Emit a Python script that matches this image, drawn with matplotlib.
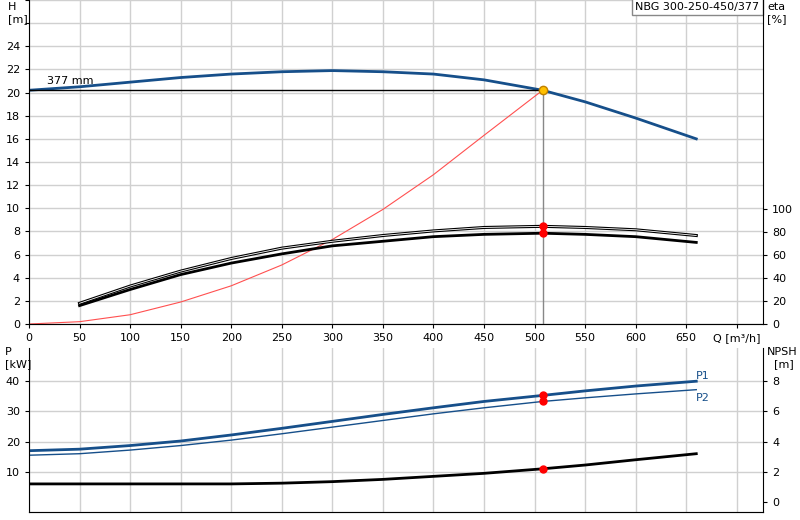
import matplotlib
matplotlib.use("Agg")
import matplotlib.pyplot as plt

Q = [0, 50, 100, 150, 200, 250, 300, 350, 400, 450, 508, 550, 600, 660]
H = [20.2, 20.5, 20.9, 21.3, 21.6, 21.8, 21.9, 21.8, 21.6, 21.1, 20.2, 19.2, 17.8, 16.0]
Qe = [50, 100, 150, 200, 250, 300, 350, 400, 450, 508, 550, 600, 660]
eta1 = [18, 33, 46, 57, 66, 72, 77, 81, 84, 85, 84, 82, 77]
eta2 = [16, 30, 43, 53, 61, 68, 72, 76, 78, 79, 78, 76, 71]
Qs = [0, 50, 100, 150, 200, 250, 300, 350, 400, 450, 508]
Hs = [0, 0.2, 0.8, 1.9, 3.3, 5.1, 7.3, 9.9, 12.9, 16.3, 20.2]
P1 = [17, 17.5, 18.7, 20.2, 22.2, 24.4, 26.7, 29.0, 31.2, 33.3, 35.3, 36.8, 38.4, 40.0]
P2 = [15.5, 16, 17.2, 18.7, 20.5, 22.6, 24.8, 27.0, 29.2, 31.2, 33.3, 34.5, 35.8, 37.2]
NPSH = [1.2, 1.2, 1.2, 1.2, 1.2, 1.25, 1.35, 1.5, 1.7, 1.9, 2.2, 2.45, 2.8, 3.2]
Qop, Hop, eta1op, eta2op, P1op, P2op, NPSHop = 508, 20.2, 85, 79, 35.3, 33.3, 2.2
title = "NBG 300-250-450/377"

W, Hh = 800, 520
fig = plt.figure(figsize=(8, 5.2), dpi=100)
ax = fig.add_axes([29/W, (Hh-324)/Hh, (763-29)/W, 324/Hh])
ax2 = fig.add_axes([29/W, (Hh-512)/Hh, (763-29)/W, (512-348)/Hh])
blue = "#164f8a"
gc = "#d0d0d0"
xmax = 726
for a in (ax, ax2):
    a.set_xlim(0, xmax)
    a.set_xticks(range(0, 701, 50))
    a.grid(True, color=gc, lw=1)
    a.tick_params(labelsize=8, length=3)
    for s in ("top", "right"):
        a.spines[s].set_visible(False)
    a.spines["bottom"].set_color("#888")
# top
ax.set_ylim(0, 28)
ax.set_yticks(range(0, 29, 2))
ax.set_yticklabels([str(v) if v <= 24 else "" for v in range(0, 29, 2)])
ax.set_xticklabels([str(v) for v in range(0, 651, 50)] + ["Q [m³/h]"])
ax.plot(Q, H, color=blue, lw=2)
ax.plot(Qs, Hs, color="#ff5050", lw=0.8)
ax.plot([0, Qop], [Hop, Hop], color="black", lw=1)
ax.plot([Qop, Qop], [0, Hop], color="#888", lw=1)
ax.text(18, 20.7, "377 mm", fontsize=8)
ax.plot(Qop, Hop, "o", color="#ffc000", mec="#c08000", ms=6, zorder=5)
fig.text(8/W, 1 - 2/Hh, "H\n[m]", ha="left", va="top", fontsize=8)
axe = ax.twinx()
axe.set_ylim(0, 28 * 10.07)
axe.set_yticks(range(0, 101, 20))
axe.tick_params(labelsize=8, length=3)
for s in ("top", "left"):
    axe.spines[s].set_visible(False)
axe.plot(Qe, eta1, color="black", lw=2.2)
axe.plot(Qe, eta1, color="white", lw=0.6)
axe.plot(Qe, eta2, color="black", lw=2)
axe.plot([Qop, Qop], [eta1op, eta2op], "o", color="red", ms=5, zorder=5)
fig.text(767/W, 1 - 2/Hh, "eta\n[%]", ha="left", va="top", fontsize=8)
ax.text(0.995, 0.995, title, transform=ax.transAxes, ha="right", va="top", fontsize=8,
        bbox=dict(boxstyle="square,pad=0.3", fc="white", ec="#888"))
# bottom
ax2.set_ylim(-3.3, 51)
ax2.set_yticks([10, 20, 30, 40])
ax2.set_xticklabels([])
ax2.tick_params(axis="x", length=0)
ax2.plot(Q, P1, color=blue, lw=2)
ax2.plot(Q, P2, color=blue, lw=1)
ax2.plot([Qop, Qop], [P1op, P2op], "o", color="red", ms=5, zorder=5)
ax2.text(660, 40.8, "P1", color=blue, fontsize=8)
ax2.text(660, 33.5, "P2", color=blue, fontsize=8)
fig.text(5/W, 1 - 347/Hh, "P\n[kW]", ha="left", va="top", fontsize=8)
axn = ax2.twinx()
axn.set_ylim(-3.3/5, 51/5)
axn.set_yticks(range(0, 9, 2))
axn.tick_params(labelsize=8, length=3)
for s in ("top", "left"):
    axn.spines[s].set_visible(False)
axn.plot(Q, NPSH, color="black", lw=2)
axn.plot(Qop, NPSHop, "o", color="red", ms=5, zorder=5)
fig.text(767/W, 1 - 347/Hh, "NPSH\n  [m]", ha="left", va="top", fontsize=8)
fig.savefig("out.png", dpi=100)
